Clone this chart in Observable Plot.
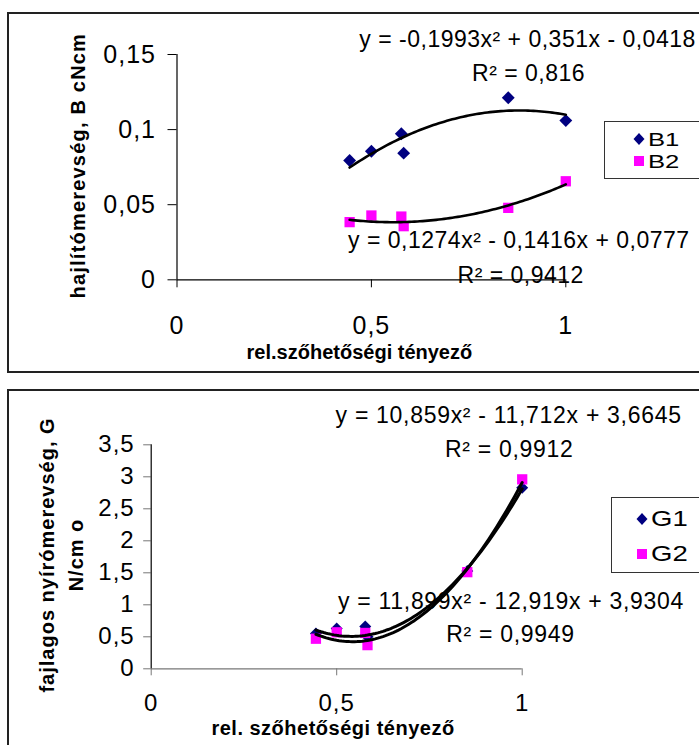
<!DOCTYPE html>
<html>
<head>
<meta charset="utf-8">
<script src="https://cdn.jsdelivr.net/npm/d3@7"></script>
<script src="https://cdn.jsdelivr.net/npm/@observablehq/plot@0.6"></script>
<style>
  html, body { margin: 0; padding: 0; background: #fff; }
  #page { position: relative; width: 699px; height: 745px; overflow: hidden; background: #fff; font-family: "Liberation Sans", Arial, sans-serif; }
  .frame { position: absolute; border: 2px solid #222; box-sizing: border-box; }
  .chart { position: absolute; left: 0; }
  .legend { position: absolute; border: 1.5px solid #333; background: #fff; box-sizing: border-box; }
  .legend .item { position: absolute; display: flex; align-items: center; color: #000; }
  .legend .item span { display: inline-block; transform-origin: left center; }
  .legend svg { display: block; }
</style>
</head>
<body>
<div id="page">
  <div class="frame" style="left:7px; top:12px; width:720px; height:361px;"></div>
  <div class="frame" style="left:7px; top:389px; width:720px; height:400px;"></div>
  <div id="top" class="chart" style="top:0px;"></div>
  <div id="bot" class="chart" style="top:372px;"></div>
</div>
<script>
// ---------- data ----------
const xRel = [0.444, 0.5, 0.577, 0.583, 0.852, 1];

const B1 = [0.0794, 0.0856, 0.0972, 0.0843, 0.1212, 0.106];
const B2 = [0.0384, 0.0428, 0.0421, 0.0357, 0.0479, 0.0656];

const G1 = [0.55, 0.63, 0.66, 0.50, 1.53, 2.83];
const G2 = [0.47, 0.57, 0.56, 0.37, 1.51, 2.96];

// trendline coefficients [a, b, c] for y = a x^2 + b x + c (as printed on the chart)
const trendB1 = [-0.1993, 0.351, -0.0418];
const trendB2 = [0.1274, -0.1416, 0.0777];
const trendG1 = [10.859, -11.712, 3.6645];
const trendG2 = [11.899, -12.919, 3.9304];

const eqB1 = "y = -0,1993x² + 0,351x - 0,0418";
const r2B1 = "R² = 0,816";
const eqB2 = "y = 0,1274x² - 0,1416x + 0,0777";
const r2B2 = "R² = 0,9412";
const eqG1 = "y = 10,859x² - 11,712x + 3,6645";
const r2G1 = "R² = 0,9912";
const eqG2 = "y = 11,899x² - 12,919x + 3,9304";
const r2G2 = "R² = 0,9949";

const xTicks = [0, 0.5, 1];
const yTicksTop = [0, 0.05, 0.1, 0.15];
const yTicksBot = [0, 0.5, 1, 1.5, 2, 2.5, 3, 3.5];

const titleYTop = "hajlítómerevség, B cNcm";
const titleXTop = "rel.szőhetőségi tényező";
const titleYBot = "fajlagos nyírómerevség, G\nN/cm o";
const titleXBot = "rel. szőhetőségi tényező";

const namesTop = ["B1", "B2"];
const namesBot = ["G1", "G2"];

// label anchor positions in data units (annotation placement)
const annTop = [
  {x: 0.469, y: 0.160, t: eqB1},
  {x: 0.759, y: 0.1374, t: r2B1},
  {x: 0.440, y: 0.0262, t: eqB2},
  {x: 0.7215, y: 0.0029, t: r2B2}
];
const annBot = [
  {x: 0.497, y: 3.95, t: eqG1},
  {x: 0.792, y: 3.42, t: r2G1},
  {x: 0.5035, y: 1.05, t: eqG2},
  {x: 0.7954, y: 0.54, t: r2G2}
];

// ---------- helpers ----------
const FONT = "Liberation Sans, Arial, sans-serif";
const NAVY = "#000080", MAG = "#FF00FF";
const fmt = d => String(d).replace(".", ",");
const pts = (xs, ys) => xs.map((x, i) => ({x, y: ys[i]}));
function curve(coef, xs) {
  const lo = d3.min(xs), hi = d3.max(xs), n = 80;
  return d3.range(n + 1).map(i => {
    const x = lo + (hi - lo) * i / n;
    return {x, y: coef[0] * x * x + coef[1] * x + coef[2]};
  });
}
// letter spacing: tick labels, annotations, titles
function space(svg, tickLS, annLS, titleLS) {
  d3.select(svg).selectAll("text").each(function () {
    const g = this.parentNode;
    const lab = (g && g.getAttribute && g.getAttribute("aria-label")) || "";
    const txt = this.textContent;
    let ls = annLS;
    if (lab.includes("tick label")) ls = tickLS;
    else if (titleLS[txt] !== undefined) ls = titleLS[txt];
    this.setAttribute("letter-spacing", ls);
  });
}

// ---------- top chart ----------
const topPlot = Plot.plot({
  width: 699, height: 372,
  marginLeft: 176.5, marginRight: 133.7, marginTop: 54, marginBottom: 92.7,
  x: {domain: [0, 1]},
  y: {domain: [0, 0.15]},
  style: {fontFamily: FONT, background: "transparent", overflow: "visible", color: "#000"},
  marks: [
    Plot.axisY({ticks: yTicksTop, tickFormat: fmt, tickSize: 9, tickPadding: 12, fontSize: 25, label: null, stroke: "#000"}),
    Plot.axisX({ticks: xTicks, tickFormat: fmt, tickSize: 8, tickPadding: 28.5, fontSize: 25, label: null, stroke: "#000"}),
    Plot.ruleX([0], {stroke: "#000", strokeWidth: 1.2}),
    Plot.ruleY([0], {stroke: "#000", strokeWidth: 1.2}),
    Plot.dot(pts(xRel, B1), {x: "x", y: "y", symbol: "diamond2", r: 5.8, fill: NAVY, stroke: "none"}),
    Plot.dot(pts(xRel, B2), {x: "x", y: "y", symbol: "square", r: 5.8, fill: MAG, stroke: "none"}),
    Plot.line(curve(trendB1, xRel), {x: "x", y: "y", stroke: "#000", strokeWidth: 2.6}),
    Plot.line(curve(trendB2, xRel), {x: "x", y: "y", stroke: "#000", strokeWidth: 2.6}),
    Plot.text(annTop, {x: "x", y: "y", text: "t", textAnchor: "start", fontSize: 23, fill: "#000"}),
    Plot.text([titleYTop], {frameAnchor: "left", textAnchor: "middle", lineAnchor: "middle", rotate: -90, dx: -98.5, dy: -1.5, fontSize: 20, fontWeight: "bold", fill: "#000"}),
    Plot.text([titleXTop], {frameAnchor: "bottom", textAnchor: "middle", lineAnchor: "middle", dx: -12, dy: 73, fontSize: 20, fontWeight: "bold", fill: "#000"})
  ]
});
space(topPlot, 1, 0.5, {[titleYTop]: 1.2, [titleXTop]: 0});
document.getElementById("top").appendChild(topPlot);

// ---------- bottom chart ----------
const botPlot = Plot.plot({
  width: 699, height: 373,
  marginLeft: 150.7, marginRight: 177.3, marginTop: 72.3, marginBottom: 76.7,
  x: {domain: [0, 1]},
  y: {domain: [0, 3.5]},
  style: {fontFamily: FONT, background: "transparent", overflow: "visible", color: "#000"},
  marks: [
    Plot.axisY({ticks: yTicksBot, tickFormat: fmt, tickSize: 7.5, tickPadding: 9, fontSize: 24, label: null, stroke: "#777"}),
    Plot.axisX({ticks: xTicks, tickFormat: fmt, tickSize: 7, tickPadding: 18, fontSize: 24, label: null, stroke: "#777"}),
    Plot.ruleY([0], {stroke: "#777", strokeWidth: 1.3}),
    Plot.ruleX([0], {stroke: "#000", strokeWidth: 1.2}),
    Plot.dot(pts(xRel, G1), {x: "x", y: "y", symbol: "diamond2", r: 5.4, fill: NAVY, stroke: "none"}),
    Plot.dot(pts(xRel, G2), {x: "x", y: "y", symbol: "square", r: 5.8, fill: MAG, stroke: "none"}),
    Plot.line(curve(trendG1, xRel), {x: "x", y: "y", stroke: "#000", strokeWidth: 3}),
    Plot.line(curve(trendG2, xRel), {x: "x", y: "y", stroke: "#000", strokeWidth: 3}),
    Plot.text(annBot, {x: "x", y: "y", text: "t", textAnchor: "start", fontSize: 23, fill: "#000"}),
    Plot.text([titleYBot], {frameAnchor: "left", textAnchor: "middle", lineAnchor: "middle", rotate: -90, dx: -91.6, dy: -1.8, lineHeight: 1.45, fontSize: 20, fontWeight: "bold", fill: "#000"}),
    Plot.text([titleXBot], {frameAnchor: "bottom", textAnchor: "middle", lineAnchor: "middle", dx: -3.7, dy: 59.7, fontSize: 20, fontWeight: "bold", fill: "#000"})
  ]
});
space(botPlot, 1, 0.7, {[titleXBot]: 0.5, "fajlagos nyírómerevség, GN/cm o": 1});
document.getElementById("bot").appendChild(botPlot);

// ---------- legends ----------
function marker(kind, color) {
  const shape = kind === "diamond"
    ? `<path d="M7,1 L12.5,7 L7,13 L1.5,7 Z" fill="${color}"/>`
    : `<rect x="2" y="2" width="10" height="10" fill="${color}"/>`;
  return `<svg width="14" height="14" viewBox="0 0 14 14">${shape}</svg>`;
}
function legend(box, names, rows, fontSize, lh, sx) {
  const page = document.getElementById("page");
  const el = document.createElement("div");
  el.className = "legend";
  Object.assign(el.style, {left: box.left + "px", top: box.top + "px", width: box.width + "px", height: box.height + "px"});
  names.forEach((name, i) => {
    const it = document.createElement("div");
    it.className = "item";
    Object.assign(it.style, {left: rows[i].left + "px", top: rows[i].top + "px", fontSize: fontSize + "px", height: lh + "px", lineHeight: lh + "px"});
    it.innerHTML = marker(i === 0 ? "diamond" : "square", i === 0 ? NAVY : MAG) +
      `<span style="margin-left:2px; transform: scaleX(${sx})">${name}</span>`;
    el.appendChild(it);
  });
  page.appendChild(el);
}
legend({left: 604, top: 121, width: 120, height: 58}, namesTop,
  [{left: 27, top: 7.5}, {left: 27, top: 29.5}], 19, 19, 1.35);
legend({left: 611, top: 497, width: 120, height: 76}, namesBot,
  [{left: 23, top: 10}, {left: 23, top: 45}], 22, 22, 1.25);
</script>
</body>
</html>
